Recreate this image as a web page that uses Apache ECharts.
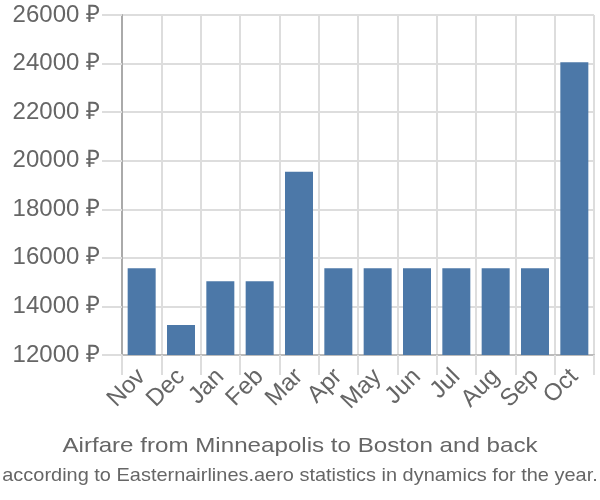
<!DOCTYPE html>
<html><head><meta charset="utf-8">
<script src="https://cdn.jsdelivr.net/npm/echarts@6/dist/echarts.min.js"></script>
<style>html,body{margin:0;padding:0;background:#fff}#c{width:600px;height:500px}</style>
</head><body><div id="c"></div>
<script>
const categories = ["Nov","Dec","Jan","Feb","Mar","Apr","May","Jun","Jul","Aug","Sep","Oct"];
const prices = [15570, 13235, 15035, 15035, 19550, 15570, 15570, 15570, 15570, 15570, 15570, 24050];
const yMin = 12000, yMax = 26000, yStep = 2000;
const titleText = "Airfare from Minneapolis to Boston and back";
const subText = "according to Easternairlines.aero statistics in dynamics for the year.";

const chart = echarts.init(document.getElementById('c'), null, {renderer:'canvas'});
chart.setOption({
  animation: false,
  backgroundColor: '#fff',
  graphic: [
    {type:'text', x:300, y:446, scaleX:1.15, originX:0, originY:0, style:{text:titleText, font:'21px "Liberation Sans"', fill:'#666', align:'center', verticalAlign:'middle'}},
    {type:'text', x:300, y:476, scaleX:1.05, originX:0, originY:0, style:{text:subText, font:'19px "Liberation Sans"', fill:'#666', align:'center', verticalAlign:'middle'}}
  ],
  grid: {left: 122, right: 6, top: 15, bottom: 145, containLabel: false},
  xAxis: {
    type: 'category', data: categories, boundaryGap: true,
    axisLine: {show: true, lineStyle: {color: '#bbb', width: 2}},
    axisTick: {show: true, length: 20, lineStyle: {color: '#ddd', width: 2}},
    splitLine: {show: true, lineStyle: {color: '#ddd', width: 2}},
    axisLabel: {rotate: 45, fontFamily: 'Liberation Sans', fontSize: 24, color: '#666', margin: 18, interval: 0}
  },
  yAxis: {
    type: 'value', min: yMin, max: yMax, interval: yStep,
    axisLine: {show: true, lineStyle: {color: '#aaa', width: 2}},
    axisTick: {show: true, length: 20, lineStyle: {color: '#ddd', width: 2}},
    splitLine: {show: true, lineStyle: {color: '#ddd', width: 2}},
    axisLabel: {formatter: v => v + ' ₽', fontFamily: 'Liberation Sans', fontSize: 24, color: '#666', margin: 22}
  },
  series: [{
    type: 'bar', data: prices, barWidth: 28,
    itemStyle: {color: '#4c78a8'}
  }]
});
</script></body></html>
